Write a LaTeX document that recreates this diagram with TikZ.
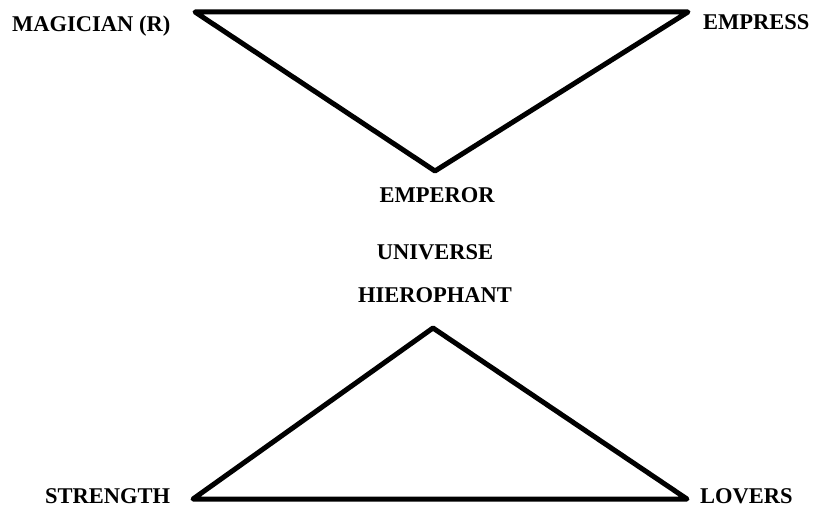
\documentclass[tikz,border=0pt]{standalone}
\usepackage{fontspec}
\setmainfont{Liberation Serif}
\begin{document}
\begin{tikzpicture}[x=1pt,y=-1pt,
  lbl/.style={inner sep=0pt,font=\fontsize{22.5}{26}\selectfont\bfseries},
  tri/.style={line width=5pt,line join=round,line cap=round}]
\useasboundingbox (0,0) rectangle (815,508);
% vertices
\coordinate (tl) at (195,12);
\coordinate (tr) at (688,12);
\coordinate (ta) at (435,171);
\coordinate (ba) at (433,328);
\coordinate (bl) at (193,499);
\coordinate (br) at (687,499);
\draw[tri] (tl) -- (tr) -- (ta) -- cycle;
\draw[tri] (ba) -- (br) -- (bl) -- cycle;
% labels
\node[lbl,anchor=base west] (magician) at (12,32) {MAGICIAN (R)};
\node[lbl,anchor=base west] (empress) at (703,30) {EMPRESS};
\node[lbl,anchor=base] (emperor) at (437,203) {EMPEROR};
\node[lbl,anchor=base] (universe) at (435,260) {UNIVERSE};
\node[lbl,anchor=base] (hierophant) at (435,302) {HIEROPHANT};
\node[lbl,anchor=base west] (strength) at (45,503) {STRENGTH};
\node[lbl,anchor=base west] (lovers) at (700,503) {LOVERS};
\end{tikzpicture}
\end{document}
